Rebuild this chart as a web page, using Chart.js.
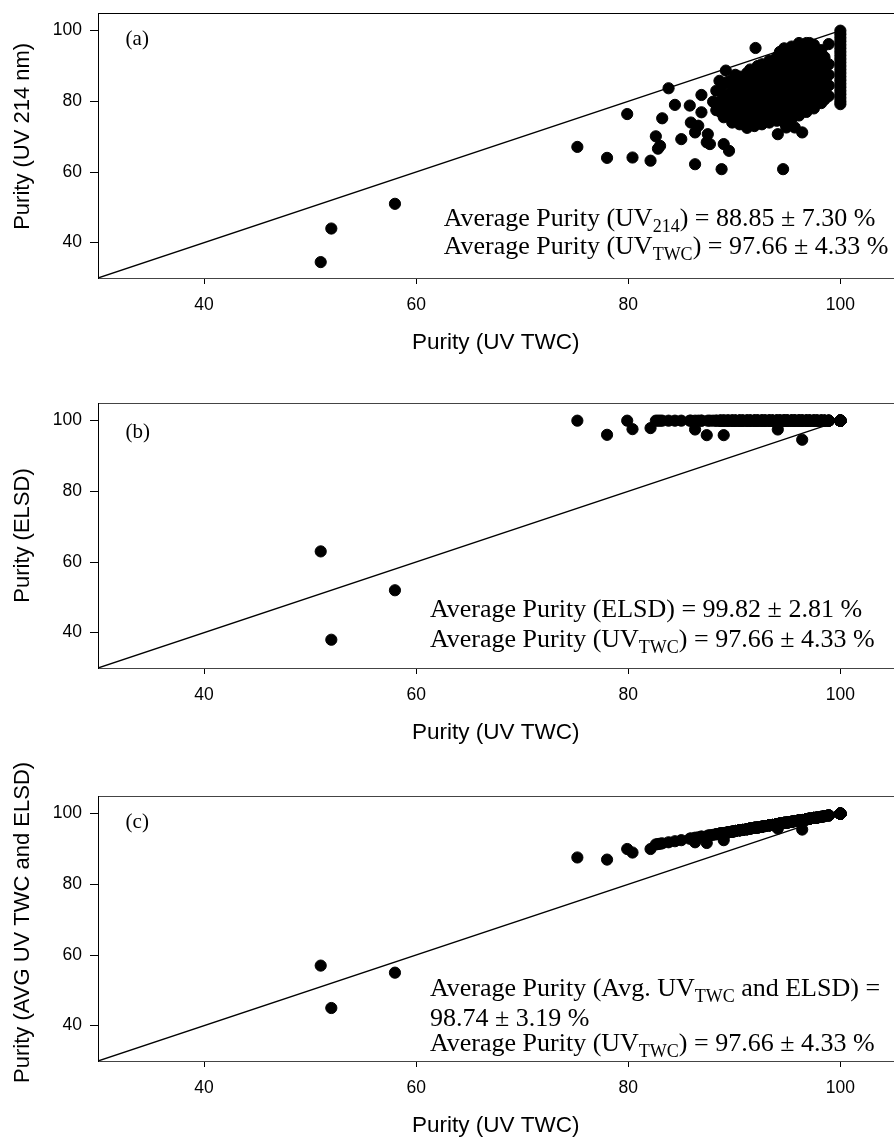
<!DOCTYPE html>
<html><head><meta charset="utf-8">
<script src="https://cdn.jsdelivr.net/npm/chart.js@4.4.1/dist/chart.umd.min.js"></script>
<style>
html,body{margin:0;padding:0;background:#fff;overflow:hidden;width:894px;height:1137px;position:relative;}
.p{position:absolute;left:0;width:900px;height:430px;}
</style></head><body>
<div class="p" style="top:-50px"><canvas id="ca" width="900" height="430"></canvas></div>
<div class="p" style="top:340px"><canvas id="cb" width="900" height="430"></canvas></div>
<div class="p" style="top:733px"><canvas id="cc" width="900" height="430"></canvas></div>
<script>
// ---- data (one entry per compound) ----
const twc = [
  51.0, 52.0, 58.0, 75.2, 78.0, 80.4, 79.9, 82.1, 82.6, 82.8, 83.0, 83.2, 83.8, 84.4, 85.0, 85.8, 85.9, 86.3, 86.3,
  86.9, 86.9, 86.6, 87.4, 88.8, 89.2, 88.6, 88.0, 87.5, 87.7, 89.0, 89.5, 92.0, 94.6, 94.1, 94.9, 95.7, 96.4, 98.9,
  100, 100, 100, 100, 100, 100, 100, 100, 100, 100, 100, 100,
  100, 100, 100, 100, 100, 100, 100, 100, 100, 100,
  88.3, 88.3,
  89.0, 89.0, 89.0, 89.0,
  89.8, 89.8, 89.8, 89.8, 89.8,
  90.5, 90.5, 90.5, 90.5, 90.5, 90.5,
  91.2, 91.2, 91.2, 91.2, 91.2, 91.2,
  91.9, 91.9, 91.9, 91.9, 91.9, 91.9,
  92.6, 92.6, 92.6, 92.6, 92.6, 92.6, 92.6,
  93.3, 93.3, 93.3, 93.3, 93.3, 93.3, 93.3,
  94.0, 94.0, 94.0, 94.0, 94.0, 94.0, 94.0,
  94.7, 94.7, 94.7, 94.7, 94.7, 94.7, 94.7, 94.7,
  95.4, 95.4, 95.4, 95.4, 95.4, 95.4, 95.4, 95.4,
  96.1, 96.1, 96.1, 96.1, 96.1, 96.1, 96.1, 96.1,
  96.8, 96.8, 96.8, 96.8, 96.8, 96.8, 96.8, 96.8,
  97.5, 97.5, 97.5, 97.5, 97.5, 97.5, 97.5,
  98.2, 98.2, 98.2, 98.2, 98.2, 98.2,
  98.9, 98.9, 98.9, 98.9,
  88.7, 88.7, 88.7,
  89.4, 89.4, 89.4, 89.4,
  90.1, 90.1, 90.1, 90.1, 90.1,
  90.8, 90.8, 90.8, 90.8, 90.8,
  91.5, 91.5, 91.5, 91.5, 91.5, 91.5,
  92.2, 92.2, 92.2, 92.2, 92.2, 92.2,
  92.9, 92.9, 92.9, 92.9, 92.9, 92.9,
  93.6, 93.6, 93.6, 93.6, 93.6, 93.6,
  94.3, 94.3, 94.3, 94.3, 94.3, 94.3, 94.3,
  95.0, 95.0, 95.0, 95.0, 95.0, 95.0, 95.0,
  95.7, 95.7, 95.7, 95.7, 95.7, 95.7, 95.7,
  96.4, 96.4, 96.4, 96.4, 96.4, 96.4, 96.4,
  97.1, 97.1, 97.1, 97.1, 97.1, 97.1, 97.1,
  97.8, 97.8, 97.8, 97.8, 97.8, 97.8,
  98.5, 98.5, 98.5, 98.5, 98.5
];
const uv214 = [
  34.5, 44.0, 51.0, 67.1, 64.0, 64.1, 76.4, 63.2, 70.1, 66.6, 67.4, 75.2, 83.7, 79.0, 69.3, 78.8, 74.0, 71.2, 62.2,
  81.8, 76.9, 73.1, 68.4, 60.8, 88.7, 85.8, 79.9, 70.7, 67.9, 67.9, 66.0, 95.1, 60.8, 70.7, 72.6, 72.6, 71.2, 96.2,
  100, 98, 96, 94, 92, 90, 88, 86, 84, 82, 80, 79.2,
  99, 97, 95, 93, 91, 89, 87, 85, 83, 81,
  77.5, 83.0,
  75.5, 78.5, 81.5, 85.0,
  74.0, 77.0, 80.0, 83.0, 86.0,
  73.5, 76.5, 79.5, 82.5, 85.5, 87.0,
  72.5, 75.5, 78.5, 81.0, 84.5, 88.0,
  73.0, 76.0, 79.0, 82.0, 85.0, 88.5,
  73.5, 76.5, 79.5, 82.5, 85.5, 88.0, 90.5,
  74.0, 77.0, 80.0, 83.0, 86.0, 89.0, 91.5,
  74.5, 77.5, 80.5, 83.5, 86.5, 89.5, 92.5,
  74.0, 77.0, 80.0, 83.0, 86.0, 89.0, 92.0, 95.0,
  75.0, 78.0, 81.0, 84.0, 87.0, 90.0, 93.0, 95.5,
  76.0, 79.0, 82.0, 85.0, 88.0, 91.0, 94.0, 96.5,
  77.0, 80.0, 83.0, 86.0, 89.0, 92.0, 95.0, 96.5,
  78.0, 81.0, 84.0, 87.0, 90.0, 93.0, 96.0,
  79.5, 82.5, 85.5, 88.5, 91.5, 94.5,
  81.5, 84.5, 87.5, 90.5,
  77.0, 80.0, 83.0,
  76.0, 79.0, 82.0, 85.5,
  75.5, 78.5, 81.5, 84.5, 87.5,
  74.0, 77.0, 80.0, 83.0, 86.0,
  74.0, 77.0, 80.0, 83.0, 86.5, 89.0,
  74.5, 77.5, 80.5, 83.5, 87.0, 90.0,
  75.0, 78.0, 81.0, 84.0, 87.0, 90.0,
  75.5, 78.5, 81.5, 84.5, 88.0, 91.0,
  76.0, 79.0, 82.0, 85.0, 88.0, 91.0, 94.0,
  76.5, 79.5, 82.5, 85.5, 88.5, 91.5, 94.5,
  76.5, 79.5, 82.5, 85.5, 88.5, 91.5, 94.5,
  77.5, 80.5, 83.5, 86.5, 89.5, 92.5, 95.5,
  78.5, 81.5, 84.5, 87.5, 90.5, 93.5, 96.5,
  79.5, 82.5, 85.5, 88.5, 91.5, 94.5,
  80.5, 83.5, 86.5, 89.5, 92.5
];
const elsd = [
  63.0, 38.0, 52.0, 100, 96.0, 97.6, 100, 97.9, 100, 100, 100, 100, 100, 100, 100, 100, 100, 97.5, 100,
  100, 100, 100, 95.9, 100, 100, 100, 100, 100, 100, 95.9, 100, 100, 100, 97.5, 100, 100, 94.6, 100,
  100, 100, 100, 100, 100, 100, 100, 100, 100, 100, 100, 100,
  100, 100, 100, 100, 100, 100, 100, 100, 100, 100,
  100, 100,
  100, 100, 100, 100,
  100, 100, 100, 100, 100,
  100, 100, 100, 100, 100, 100,
  100, 100, 100, 100, 100, 100,
  100, 100, 100, 100, 100, 100,
  100, 100, 100, 100, 100, 100, 100,
  100, 100, 100, 100, 100, 100, 100,
  100, 100, 100, 100, 100, 100, 100,
  100, 100, 100, 100, 100, 100, 100, 100,
  100, 100, 100, 100, 100, 100, 100, 100,
  100, 100, 100, 100, 100, 100, 100, 100,
  100, 100, 100, 100, 100, 100, 100, 100,
  100, 100, 100, 100, 100, 100, 100,
  100, 100, 100, 100, 100, 100,
  100, 100, 100, 100,
  100, 100, 100,
  100, 100, 100, 100,
  100, 100, 100, 100, 100,
  100, 100, 100, 100, 100,
  100, 100, 100, 100, 100, 100,
  100, 100, 100, 100, 100, 100,
  100, 100, 100, 100, 100, 100,
  100, 100, 100, 100, 100, 100,
  100, 100, 100, 100, 100, 100, 100,
  100, 100, 100, 100, 100, 100, 100,
  100, 100, 100, 100, 100, 100, 100,
  100, 100, 100, 100, 100, 100, 100,
  100, 100, 100, 100, 100, 100, 100,
  100, 100, 100, 100, 100, 100,
  100, 100, 100, 100, 100
];
const avgTwcElsd = [
  57.0, 45.0, 55.0, 87.6, 87.0, 89.0, 90.0, 90.0, 91.3, 91.4, 91.5, 91.6, 91.9, 92.2, 92.5, 92.9, 93.0, 91.9, 93.2,
  93.5, 93.5, 93.3, 91.7, 94.4, 94.6, 94.3, 94.0, 93.8, 93.9, 92.5, 94.8, 96.0, 97.3, 95.8, 97.5, 97.9, 95.5, 99.5,
  100, 100, 100, 100, 100, 100, 100, 100, 100, 100, 100, 100,
  100, 100, 100, 100, 100, 100, 100, 100, 100, 100,
  94.2, 94.2,
  94.5, 94.5, 94.5, 94.5,
  94.9, 94.9, 94.9, 94.9, 94.9,
  95.3, 95.3, 95.3, 95.3, 95.3, 95.3,
  95.6, 95.6, 95.6, 95.6, 95.6, 95.6,
  96.0, 96.0, 96.0, 96.0, 96.0, 96.0,
  96.3, 96.3, 96.3, 96.3, 96.3, 96.3, 96.3,
  96.7, 96.7, 96.7, 96.7, 96.7, 96.7, 96.7,
  97.0, 97.0, 97.0, 97.0, 97.0, 97.0, 97.0,
  97.4, 97.4, 97.4, 97.4, 97.4, 97.4, 97.4, 97.4,
  97.7, 97.7, 97.7, 97.7, 97.7, 97.7, 97.7, 97.7,
  98.1, 98.1, 98.1, 98.1, 98.1, 98.1, 98.1, 98.1,
  98.4, 98.4, 98.4, 98.4, 98.4, 98.4, 98.4, 98.4,
  98.8, 98.8, 98.8, 98.8, 98.8, 98.8, 98.8,
  99.1, 99.1, 99.1, 99.1, 99.1, 99.1,
  99.5, 99.5, 99.5, 99.5,
  94.4, 94.4, 94.4,
  94.7, 94.7, 94.7, 94.7,
  95.1, 95.1, 95.1, 95.1, 95.1,
  95.4, 95.4, 95.4, 95.4, 95.4,
  95.8, 95.8, 95.8, 95.8, 95.8, 95.8,
  96.1, 96.1, 96.1, 96.1, 96.1, 96.1,
  96.5, 96.5, 96.5, 96.5, 96.5, 96.5,
  96.8, 96.8, 96.8, 96.8, 96.8, 96.8,
  97.2, 97.2, 97.2, 97.2, 97.2, 97.2, 97.2,
  97.5, 97.5, 97.5, 97.5, 97.5, 97.5, 97.5,
  97.9, 97.9, 97.9, 97.9, 97.9, 97.9, 97.9,
  98.2, 98.2, 98.2, 98.2, 98.2, 98.2, 98.2,
  98.6, 98.6, 98.6, 98.6, 98.6, 98.6, 98.6,
  98.9, 98.9, 98.9, 98.9, 98.9, 98.9,
  99.3, 99.3, 99.3, 99.3, 99.3
];
const identityLine = [30, 100];          // y = x reference line end points
const axisMin = 30, axisMax = 105;
const tickValues = [40, 60, 80, 100];
const xTitle = 'Purity (UV TWC)';
const yTitles = ['Purity (UV 214 nm)', 'Purity (ELSD)', 'Purity (AVG UV TWC and ELSD)'];
const yTitleLift = ['\u00a0\u00a0\u00a0', '', '\u00a0\u00a0'];   // leading space to nudge title upward
const panelLabels = ['(a)', '(b)', '(c)'];
const statTexts = [
  [[['Average Purity (UV', 0], ['214', 1], [') = 88.85 \u00b1 7.30 %', 0]],
   [['Average Purity (UV', 0], ['TWC', 1], [') = 97.66 \u00b1 4.33 %', 0]]],
  [[['Average Purity (ELSD) = 99.82 \u00b1 2.81 %', 0]],
   [['Average Purity (UV', 0], ['TWC', 1], [') = 97.66 \u00b1 4.33 %', 0]]],
  [[['Average Purity (Avg. UV', 0], ['TWC', 1], [' and ELSD) =', 0]],
   [['98.74 \u00b1 3.19 %', 0]],
   [['Average Purity (UV', 0], ['TWC', 1], [') = 97.66 \u00b1 4.33 %', 0]]]
];

// ---- rendering ----
const SERIF = '"Liberation Serif", "Times New Roman", serif';
Chart.defaults.font.family = '"Liberation Sans", Arial, sans-serif';
Chart.defaults.color = '#000';

const annotPlugin = {
  id: 'annot',
  afterDatasetsDraw(chart, args, o) {
    const ctx = chart.ctx, xs = chart.scales.x, ys = chart.scales.y;
    ctx.save();
    ctx.fillStyle = '#000';
    ctx.textBaseline = 'alphabetic';
    ctx.textAlign = 'left';
    o.lines.forEach((line, li) => {
      let px = xs.getPixelForValue(o.x);
      const py = ys.getPixelForValue(o.y[li]);
      line.forEach(seg => {
        ctx.font = (seg[1] ? o.subSize : o.size) + 'px ' + SERIF;
        ctx.fillText(seg[0], px, py + (seg[1] ? o.subShift : 0));
        px += ctx.measureText(seg[0]).width;
      });
    });
    ctx.font = o.labelSize + 'px ' + SERIF;
    ctx.fillText(o.label, xs.getPixelForValue(o.labelX), ys.getPixelForValue(o.labelY));
    ctx.restore();
  }
};

function makeChart(id, yVals, idx, annot) {
  const pts = twc.map((v, i) => ({x: v, y: yVals[i]}));
  const setTicks = s => { s.ticks = tickValues.map(v => ({value: v})); };
  return new Chart(document.getElementById(id), {
    type: 'scatter',
    data: {datasets: [
      {data: pts, backgroundColor: '#000', borderColor: '#000', borderWidth: 1, pointRadius: 5.6, order: 1},
      {type: 'line', data: identityLine.map(v => ({x: v, y: v})), borderColor: '#000', borderWidth: 1.4,
       pointRadius: 0, fill: false, order: 2}
    ]},
    options: {
      responsive: false, animation: false, events: [],
      layout: {padding: {left: 0, top: 63, right: 4, bottom: 0}},
      plugins: {legend: {display: false}, tooltip: {enabled: false}, annot: annot},
      scales: {
        x: {type: 'linear', position: 'bottom', min: axisMin, max: axisMax,
            afterBuildTicks: setTicks,
            afterFit: s => { s.height = 102; },
            ticks: {font: {size: 17.5}, padding: 11, maxRotation: 0},
            grid: {display: true, drawOnChartArea: false, drawTicks: true, tickLength: 6, color: '#000'},
            border: {display: true, color: '#444', width: 1, dash: [1, 2]},
            title: {display: true, text: xTitle, font: {size: 22.5}, padding: {top: 0, bottom: 24}}},
        x2: {type: 'linear', position: 'top', min: axisMin, max: axisMax,
            afterBuildTicks: s => { s.ticks = []; },
            afterFit: s => { s.height = 0; },
            ticks: {display: false},
            grid: {display: true, drawOnChartArea: false, drawTicks: false},
            border: idx === 0 ? {display: true, color: '#000', width: 1}
                              : {display: true, color: '#444', width: 1, dash: [1, 2]}},
        y: {type: 'linear', position: 'left', min: axisMin, max: axisMax,
            afterBuildTicks: setTicks,
            afterFit: s => { s.width = 98; },
            ticks: {font: {size: 17.5}, padding: 8},
            grid: {display: true, drawOnChartArea: false, drawTicks: true, tickLength: 8, color: '#000'},
            border: {display: true, color: '#000', width: 1},
            title: {display: true, text: yTitleLift[idx] + yTitles[idx], font: {size: 22}, padding: {top: 10, bottom: 0}}}
      }
    },
    plugins: [annotPlugin]
  });
}

const common = {size: 26, subSize: 18, subShift: 6, labelSize: 21, labelX: 32.6};
makeChart('ca', uv214, 0, Object.assign({}, common, {lines: statTexts[0], x: 62.6, y: [44.8, 36.9], label: panelLabels[0], labelY: 96.0}));
makeChart('cb', elsd, 1, Object.assign({}, common, {lines: statTexts[1], x: 61.3, y: [44.5, 36.0], label: panelLabels[1], labelY: 95.2}));
makeChart('cc', avgTwcElsd, 2, Object.assign({}, common, {lines: statTexts[2], x: 61.3, y: [48.5, 40.0, 32.7], label: panelLabels[2], labelY: 96.0}));
</script>
</body></html>
